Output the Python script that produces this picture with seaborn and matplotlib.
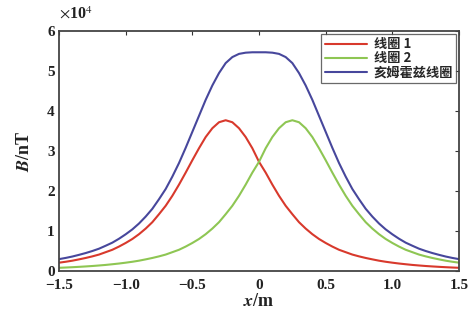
import numpy as np
import pandas as pd
import matplotlib
matplotlib.use("Agg")
import matplotlib.pyplot as plt
import seaborn as sns

# x positions (m)
x_vals = [round(-1.5 + 0.05 * i, 2) for i in range(61)]

# Coil 1 field (x1e4 nT)
coil1 = [0.217, 0.24, 0.267, 0.30, 0.335, 0.375, 0.42, 0.48, 0.54, 0.62,
         0.71, 0.81, 0.93, 1.07, 1.23, 1.43, 1.64, 1.89, 2.17, 2.47,
         2.78, 3.08, 3.36, 3.58, 3.73, 3.78, 3.73, 3.58, 3.36, 3.08,
         2.74, 2.47, 2.17, 1.89, 1.64, 1.43, 1.23, 1.07, 0.93, 0.81,
         0.71, 0.62, 0.54, 0.48, 0.42, 0.375, 0.335, 0.30, 0.267, 0.24,
         0.217, 0.196, 0.178, 0.161, 0.147, 0.134, 0.123, 0.113, 0.104, 0.096,
         0.089]
# Coil 2 field (mirror image of coil 1)
coil2 = coil1[::-1]
# Helmholtz coil field
helmholtz = [0.306, 0.336, 0.371, 0.413, 0.458, 0.509, 0.567, 0.641, 0.718, 0.816,
             0.927, 1.05, 1.197, 1.37, 1.565, 1.805, 2.06, 2.37, 2.71, 3.09,
             3.49, 3.89, 4.29, 4.65, 4.96, 5.21, 5.36, 5.44, 5.47, 5.48,
             5.48, 5.48, 5.47, 5.44, 5.36, 5.21, 4.96, 4.65, 4.29, 3.89,
             3.49, 3.09, 2.71, 2.37, 2.06, 1.805, 1.565, 1.37, 1.197, 1.05,
             0.927, 0.816, 0.718, 0.641, 0.567, 0.509, 0.458, 0.413, 0.371, 0.336,
             0.306]

labels = ["线圈 1", "线圈 2", "亥姆霍兹线圈"]
colors = ["#d8392c", "#8ec653", "#47479c"]
x_ticks = [-1.5, -1.0, -0.5, 0, 0.5, 1.0, 1.5]
x_ticklabels = ["\u22121.5", "\u22121.0", "\u22120.5", "0", "0.5", "1.0", "1.5"]
y_ticks = [0, 1, 2, 3, 4, 5, 6]

df = pd.DataFrame({
    "x": x_vals * 3,
    "B": coil1 + coil2 + helmholtz,
    "series": [labels[0]] * 61 + [labels[1]] * 61 + [labels[2]] * 61,
})

sns.set_theme(style="white")
plt.rcParams["font.family"] = ["Liberation Serif", "Noto Sans CJK SC"]
plt.rcParams["mathtext.fontset"] = "stix"

fig = plt.figure(figsize=(4.72, 3.2), dpi=100)
ax = fig.add_axes([0.125, 0.152, 0.8475, 0.7496])

sns.lineplot(data=df, x="x", y="B", hue="series", hue_order=labels,
             palette=colors, linewidth=1.5, ax=ax, legend=True)

ax.set_xlim(-1.5, 1.5)
ax.set_ylim(0, 6)
ax.set_xticks(x_ticks)
ax.set_xticklabels(x_ticklabels)
ax.set_yticks(y_ticks)
for lab in ax.get_xticklabels() + ax.get_yticklabels():
    lab.set_fontweight("bold")
    lab.set_fontsize(11)
    lab.set_fontfamily("Liberation Serif")
ax.tick_params(direction="in", length=3, width=0.8, top=True, right=True,
               colors="#333333", labelcolor="#222222")
ax.tick_params(axis="x", pad=5.5)
ax.tick_params(axis="y", pad=3)
for sp in ax.spines.values():
    sp.set_color("#444444")
    sp.set_linewidth(1.3)

ax.set_xlabel(r"$\mathbfit{x}$/m", fontsize=13, fontweight="bold", labelpad=1,
              color="#222222")
ax.set_ylabel(r"$\mathbfit{B}$/nT", fontsize=13, fontweight="bold", labelpad=10,
              color="#222222")
ax.text(0.0, 1.035, r"$\times$10$^4$", transform=ax.transAxes, fontsize=11.5,
        fontweight="bold", ha="left", va="bottom", color="#222222")

leg = ax.legend(loc="upper right", frameon=True, fancybox=False,
                prop={"family": ["Noto Sans CJK SC"], "size": 9.5, "weight": "bold"},
                handlelength=3.2, borderpad=0.25, labelspacing=0.0,
                handletextpad=0.5, borderaxespad=0.2)
leg.get_frame().set_edgecolor("#444444")
leg.get_frame().set_linewidth(0.9)

fig.savefig("out.png", dpi=100)
